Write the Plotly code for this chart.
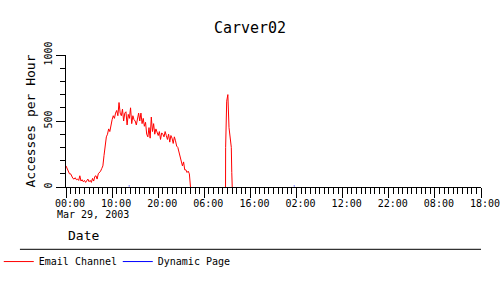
import plotly.graph_objects as go

# ---- data ----
title_text = "Carver02"
series_names = ["Email Channel", "Dynamic Page"]
x_tick_hours = [0, 10, 20, 30, 40, 50, 60, 70, 80, 90]
x_tick_labels = ["00:00", "10:00", "20:00", "06:00", "16:00",
                 "02:00", "12:00", "22:00", "08:00", "18:00"]
start_date_label = "Mar 29, 2003"
sample_step_hours = 0.25

# Email Channel, sampled every 15 min from 00:00 Mar 29
email_main = [
    160, 140, 120, 100,
    100, 80, 65, 60,
    70, 55, 60, 50,
    85, 45, 55, 40,
    50, 35, 45, 60,
    40, 50, 35, 65,
    45, 80, 85, 60,
    100, 110, 120, 140,
    160, 240, 300, 380,
    400, 440, 420, 480,
    510, 540, 520, 560,
    580, 540, 640, 560,
    540, 590, 500, 560,
    570, 470, 550, 520,
    600, 480, 540, 510,
    500, 470, 530, 560,
    500, 560, 480, 520,
    460, 490, 400, 380,
    450, 370, 530, 420,
    480, 400, 440, 410,
    390, 420, 360, 410,
    400, 380, 420, 390,
    360, 400, 340, 390,
    370, 330, 380, 350,
    310, 300, 270, 230,
    200, 160, 190, 130,
    130, 110, 120, 100,
]
# later burst (hours since start, value); None = no data
email_burst_hours = [27.0, 30.0, 34.6, 34.62, 34.85, 35.1, 35.35, 35.6, 35.85, 35.95, 36.05]
email_burst_values = [0, None, 0, 300, 650, 700, 450, 340, 300, 110, 0]

# Dynamic Page: tiny values
dyn_hours = [13.6, 13.8, 13.9, 49.4, 49.6]
dyn_values = [8, 8, None, 8, 8]

# ---- build ----
email_hours = [i * sample_step_hours for i in range(len(email_main))] + email_burst_hours
email_values = email_main + email_burst_values

FONT = "DejaVu Sans Mono"

fig = go.Figure()
fig.add_trace(go.Scatter(x=email_hours, y=email_values, mode="lines",
                         name=series_names[0], line=dict(color="#ff0000", width=1),
                         connectgaps=False))
fig.add_trace(go.Scatter(x=dyn_hours, y=dyn_values, mode="lines",
                         name=series_names[1], line=dict(color="#0000ff", width=1),
                         connectgaps=False))

fig.update_layout(
    width=500, height=300,
    margin=dict(l=66, r=19, t=55, b=113, autoexpand=False),
    paper_bgcolor="white", plot_bgcolor="white",
    font=dict(family=FONT, size=10, color="black"),
    title=dict(text=title_text, x=0.5, xanchor="center", y=1 - 28 / 300,
               yanchor="middle", yref="container",
               font=dict(family=FONT, size=15, color="black")),
    showlegend=True,
    legend=dict(orientation="h", x=-0.162, xanchor="left", y=-0.455, yanchor="top",
                font=dict(family=FONT, size=10, color="black"),
                bgcolor="rgba(0,0,0,0)", entrywidth=74, entrywidthmode="pixels",
                tracegroupgap=0, itemclick=False),
)

fig.update_xaxes(
    range=[0, 90], showgrid=False, zeroline=False, automargin=False,
    showline=True, linecolor="black", linewidth=1,
    ticks="outside", ticklen=10, tickcolor="black", tickwidth=1,
    tickvals=x_tick_hours, ticktext=x_tick_labels, ticklabelshift=4,
    ticklabelstandoff=-3, ticklabeloverflow="allow",
    tickfont=dict(family=FONT, size=10, color="black"),
    minor=dict(dtick=1, ticks="outside", ticklen=6, tickcolor="black", tickwidth=1, showgrid=False),
)
fig.update_yaxes(
    range=[0, 1000], showgrid=False, zeroline=False, automargin=False,
    showline=True, linecolor="black", linewidth=1,
    ticks="outside", ticklen=9, tickcolor="black", tickwidth=1,
    tickvals=[0, 500, 1000], tickangle=-90,
    tickfont=dict(family=FONT, size=10, color="black"),
    minor=dict(dtick=100, ticks="outside", ticklen=5, tickcolor="black", tickwidth=1, showgrid=False),
    title=dict(text="Accesses per Hour", font=dict(family=FONT, size=13, color="black"), standoff=4),
)

# date line under first tick label, and "Date" axis caption
fig.add_annotation(text=start_date_label, xref="x", x=0, xanchor="left", xshift=-11,
                   yref="paper", y=0, yanchor="middle", yshift=-27, showarrow=False,
                   font=dict(family=FONT, size=10, color="black"))
fig.add_annotation(text="Date", xref="paper", x=0, xanchor="left", xshift=0,
                   yref="paper", y=0, yanchor="middle", yshift=-48, showarrow=False,
                   font=dict(family=FONT, size=13, color="black"))
# separator rule above the legend
fig.add_shape(type="line", xref="paper", yref="paper", x0=-0.111, x1=1.0,
              y0=-0.472, y1=-0.472, line=dict(color="black", width=1))

fig.write_html("out.html")
